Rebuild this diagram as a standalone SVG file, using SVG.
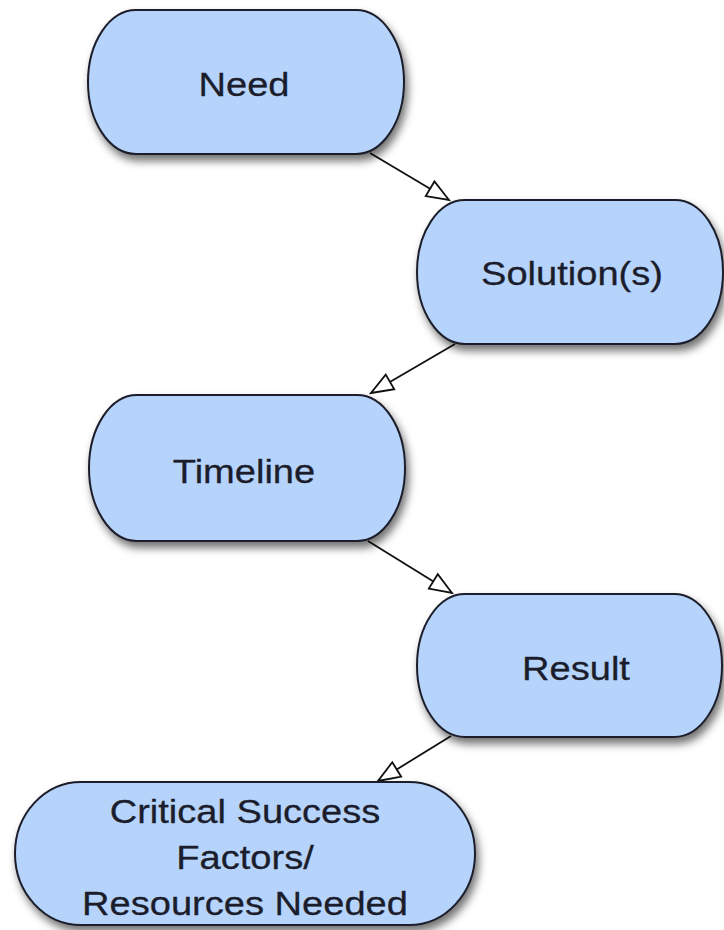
<svg xmlns="http://www.w3.org/2000/svg" width="724" height="930" viewBox="0 0 724 930">
  <style>
    .node { fill: #b6d4fb; stroke: #1c1f2b; stroke-width: 2; filter: url(#shadow); }
    .label { font-family: "Liberation Sans", Arial, Helvetica, sans-serif; font-size: 34px; fill: #1b1d2c; stroke: #1b1d2c; stroke-width: 0.3; text-anchor: middle; }
    .edge { fill: none; stroke: #111; stroke-width: 1.8; marker-end: url(#open-arrow); }
  </style>
  <defs>
    <filter id="shadow" x="-10%" y="-10%" width="130%" height="140%">
      <feDropShadow dx="3" dy="6" stdDeviation="4" flood-color="#000" flood-opacity="0.55"/>
    </filter>
    <marker id="open-arrow" markerUnits="userSpaceOnUse" markerWidth="30" markerHeight="24" viewBox="-26 -12 30 24" refX="0" refY="0" orient="auto">
      <path d="M0,0 L-22,-8.5 L-22,8.5 Z" fill="#fff" stroke="#111" stroke-width="1.8" stroke-linejoin="miter"/>
    </marker>
  </defs>
  <rect width="724" height="930" fill="#ffffff"/>

  <g id="connectors">
    <path class="edge" d="M370,153 L449,200"/>
    <path class="edge" d="M455,344 L371,393"/>
    <path class="edge" d="M368,541 L452,593"/>
    <path class="edge" d="M451,736 L378,781"/>
  </g>

  <g id="node-need">
    <rect class="node" x="88" y="10" width="316" height="144" rx="48" ry="72"/>
    <text class="label" transform="translate(244,96) scale(1.12,1)">Need</text>
  </g>

  <g id="node-solutions">
    <rect class="node" x="417" y="200" width="306" height="144" rx="48" ry="72"/>
    <text class="label" transform="translate(572,285) scale(1.12,1)">Solution(s)</text>
  </g>

  <g id="node-timeline">
    <rect class="node" x="89" y="395" width="316" height="146" rx="48" ry="73"/>
    <text class="label" transform="translate(244,483) scale(1.12,1)">Timeline</text>
  </g>

  <g id="node-result">
    <rect class="node" x="417" y="594" width="305" height="143" rx="48" ry="71.5"/>
    <text class="label" transform="translate(576,680) scale(1.12,1)">Result</text>
  </g>

  <g id="node-critical">
    <rect class="node" x="15" y="782" width="460" height="143" rx="66" ry="71.5"/>
    <text class="label" transform="translate(245,823) scale(1.12,1)">Critical Success</text>
    <text class="label" transform="translate(245,869) scale(1.12,1)">Factors/</text>
    <text class="label" transform="translate(245,915) scale(1.12,1)">Resources Needed</text>
  </g>
</svg>
